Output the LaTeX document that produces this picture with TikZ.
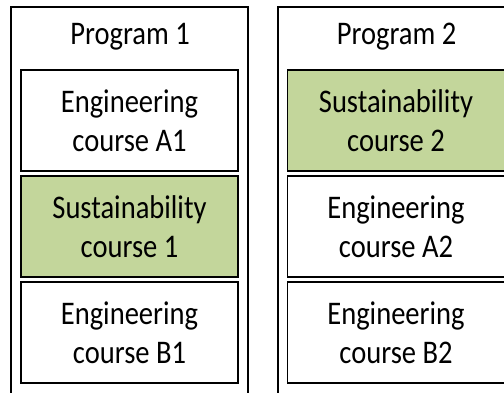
\documentclass[tikz,border=0pt]{standalone}
\usepackage{fontspec}
\setmainfont{Carlito}
\usepackage{graphicx}
\definecolor{sgreen}{RGB}{195,214,155}
\newcommand{\nl}[1]{\scalebox{0.865}[1]{#1}}
\begin{document}
\begin{tikzpicture}[x=1pt,y=-1pt,
  outerbox/.style={draw, line width=2pt, minimum width=237pt, minimum height=393pt, inner sep=0pt},
  coursebox/.style={draw, line width=1.6pt, minimum width=217pt, minimum height=101pt, align=center, inner sep=0pt, font=\fontsize{33}{39}\selectfont},
  greenbox/.style={coursebox, fill=sgreen},
  titletext/.style={font=\fontsize{33}{39}\selectfont, inner sep=0pt, anchor=base}]
\useasboundingbox (0,0) rectangle (504,392);
\fill[white] (0,0) rectangle (504,392);
\clip (0,0) rectangle (504,392);
% Program 1
\node[outerbox] (p1) at (129.5,203.5) {};
\node[titletext] (t1) at (130,44) {\nl{Program 1}};
\node[coursebox] (a1) at (129.5,120.5) {\nl{Engineering}\\\nl{course A1}};
\node[greenbox] (s1) at (129.5,226.5) {\nl{Sustainability}\\\nl{course 1}};
\node[coursebox] (b1) at (129.5,332.5) {\nl{Engineering}\\\nl{course B1}};
% Program 2
\node[outerbox] (p2) at (396.5,203.5) {};
\node[titletext] (t2) at (396.5,44) {\nl{Program 2}};
\node[greenbox] (s2) at (396,120.5) {\nl{Sustainability}\\\nl{course 2}};
\node[coursebox] (a2) at (396,226.5) {\nl{Engineering}\\\nl{course A2}};
\node[coursebox] (b2) at (396,332.5) {\nl{Engineering}\\\nl{course B2}};
\end{tikzpicture}
\end{document}
